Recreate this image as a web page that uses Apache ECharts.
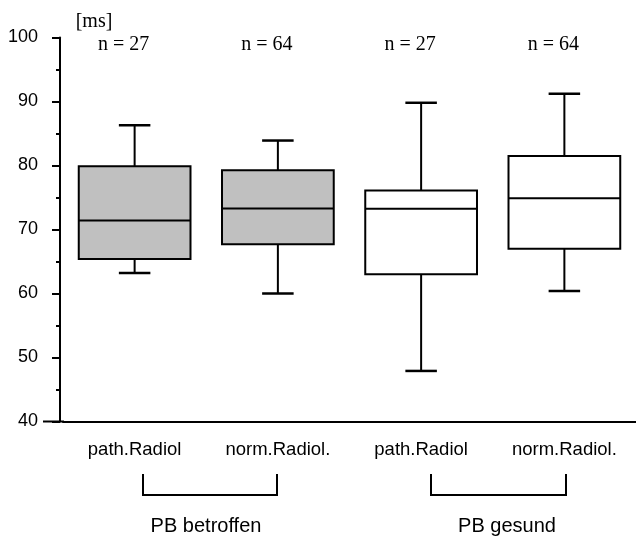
<!DOCTYPE html>
<html><head><meta charset="utf-8">
<script src="https://cdn.jsdelivr.net/npm/echarts@6/dist/echarts.min.js"></script>
<style>html,body{margin:0;padding:0;background:#fff}#c{width:636px;height:539px}</style>
</head><body><div id="c"></div>
<script>
// ---- data ----
const categories = ['path.Radiol', 'norm.Radiol.', 'path.Radiol', 'norm.Radiol.'];
const groups = ['PB betroffen', 'PB gesund'];
const sampleSizes = ['n = 27', 'n = 64', 'n = 27', 'n = 64'];
const lowerWhisker = [63.2, 60.0, 47.9, 60.4];
const q1 = [65.4, 67.7, 63.0, 67.0];
const median = [71.4, 73.3, 73.25, 74.9];
const q3 = [79.9, 79.25, 76.1, 81.5];
const upperWhisker = [86.3, 83.9, 89.8, 91.2];
const yMin = 40, yMax = 100, yStep = 10;
const unitLabel = '[ms]';

// ---- styles ----
const boxFills = ['#c0c0c0', '#c0c0c0', '#ffffff', '#ffffff'];
const SANS = '"Liberation Sans", Arial, sans-serif';
const SERIF = '"Liberation Serif", "Times New Roman", serif';

const seriesData = categories.map((c, i) => [i, lowerWhisker[i], q1[i], median[i], q3[i], upperWhisker[i]]);

function renderItem(params, api) {
  const i = api.value(0);
  const lo = api.coord([i, api.value(1)]);
  const b1 = api.coord([i, api.value(2)]);
  const md = api.coord([i, api.value(3)]);
  const b3 = api.coord([i, api.value(4)]);
  const hi = api.coord([i, api.value(5)]);
  const top = api.coord([i, yMax]);
  const band = api.size([1, 0])[0];
  const bw = band * 0.78, cw = band * 0.22;
  const x = lo[0];
  const ls = { stroke: '#000', lineWidth: 2 };
  const cs = { stroke: '#000', lineWidth: 2.5 };
  return {
    type: 'group',
    children: [
      { type: 'line', shape: { x1: x, y1: b3[1], x2: x, y2: hi[1] }, style: ls },
      { type: 'line', shape: { x1: x, y1: b1[1], x2: x, y2: lo[1] }, style: ls },
      { type: 'line', shape: { x1: x - cw / 2, y1: hi[1], x2: x + cw / 2, y2: hi[1] }, style: cs },
      { type: 'line', shape: { x1: x - cw / 2, y1: lo[1], x2: x + cw / 2, y2: lo[1] }, style: cs },
      { type: 'rect', shape: { x: x - bw / 2, y: b3[1], width: bw, height: b1[1] - b3[1] },
        style: { fill: boxFills[i], stroke: '#000', lineWidth: 2 } },
      { type: 'line', shape: { x1: x - bw / 2, y1: md[1], x2: x + bw / 2, y2: md[1] }, style: ls },
      { type: 'text', x: x - 11, y: top[1] + 7,
        style: { text: sampleSizes[i], fontSize: 20, fontFamily: SERIF, fill: '#000', align: 'center', verticalAlign: 'middle' } }
    ]
  };
}

const chart = echarts.init(document.getElementById('c'), null, { renderer: 'canvas' });
chart.setOption({
  animation: false,
  backgroundColor: '#fff',
  grid: { left: 63, right: -3, top: 37.5, bottom: 117.5, containLabel: false },
  xAxis: {
    type: 'category',
    data: categories,
    boundaryGap: true,
    axisLine: { lineStyle: { color: '#000', width: 2 } },
    axisTick: { alignWithLabel: true, length: 4, lineStyle: { color: '#000', width: 2 } },
    axisLabel: { color: '#000', fontSize: 18.5, fontFamily: SANS, margin: 19, interval: 0 },
    splitLine: { show: false }
  },
  yAxis: {
    type: 'value',
    min: yMin, max: yMax, interval: yStep,
    offset: 3,
    axisLine: { show: true, lineStyle: { color: '#000', width: 2 } },
    axisTick: { show: true, length: 8, lineStyle: { color: '#000', width: 2 } },
    minorTick: { show: true, splitNumber: 2, length: 4, lineStyle: { color: '#000', width: 2 } },
    axisLabel: { color: '#000', fontSize: 18, fontFamily: SANS, margin: 22 },
    splitLine: { show: false }
  },
  series: [{
    type: 'custom',
    renderItem: renderItem,
    encode: { x: 0, y: [1, 2, 3, 4, 5] },
    data: seriesData,
    clip: false
  }],
  graphic: [
    { type: 'text', x: 94, y: 22, style: { text: unitLabel, fontSize: 20, fontFamily: SERIF, fill: '#000', align: 'center', verticalAlign: 'middle' } },
    { type: 'line', shape: { x1: 43, y1: 421.5, x2: 64, y2: 421.5 }, style: { stroke: '#000', lineWidth: 2 } },
    { type: 'polyline', shape: { points: [[143, 474], [143, 495], [277, 495], [277, 474]] }, style: { stroke: '#000', lineWidth: 2, fill: null } },
    { type: 'polyline', shape: { points: [[431, 474], [431, 495], [566, 495], [566, 474]] }, style: { stroke: '#000', lineWidth: 2, fill: null } },
    { type: 'text', x: 206, y: 526, style: { text: groups[0], fontSize: 20, fontFamily: SANS, fill: '#000', align: 'center', verticalAlign: 'middle' } },
    { type: 'text', x: 507, y: 526, style: { text: groups[1], fontSize: 20, fontFamily: SANS, fill: '#000', align: 'center', verticalAlign: 'middle' } }
  ]
});
</script>
</body></html>
